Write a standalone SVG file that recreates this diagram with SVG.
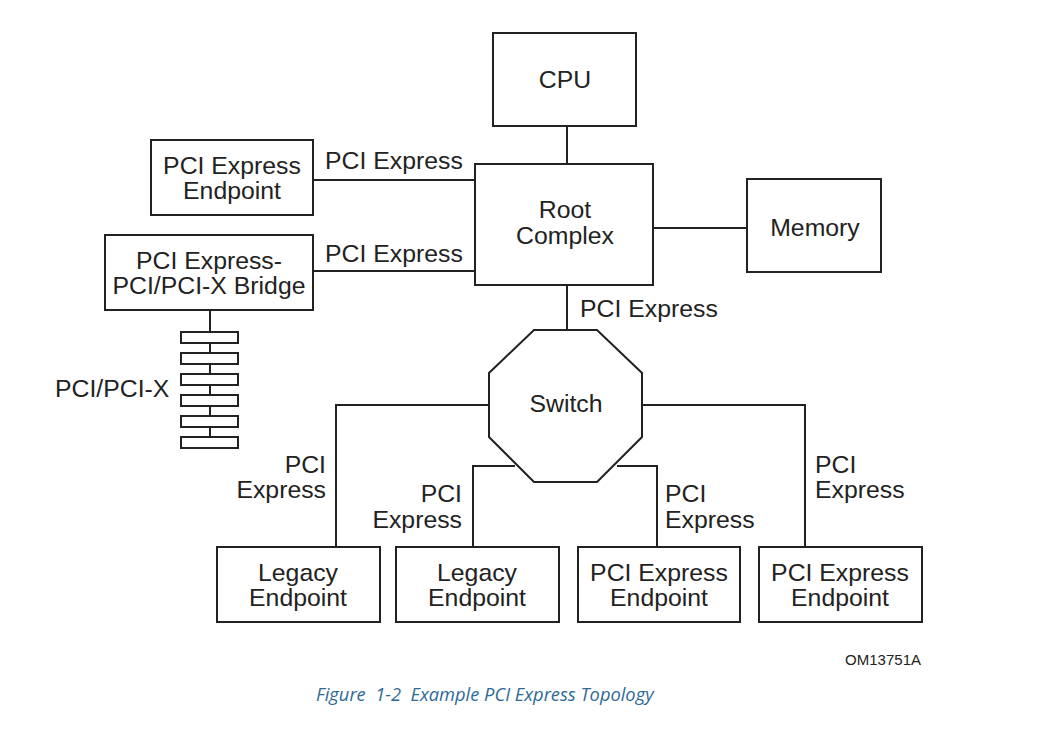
<svg xmlns="http://www.w3.org/2000/svg" width="1042" height="749" viewBox="0 0 1042 749">
<style>
.b{fill:#fff;stroke:#222;stroke-width:2}
.c{fill:none;stroke:#222;stroke-width:2}
.t{font-family:"Liberation Sans",Arial,sans-serif;font-size:24.8px;fill:#222}
.m{text-anchor:middle}
.e{text-anchor:end}
.cap{font-family:"Open Sans","Noto Sans",sans-serif;font-style:italic;font-size:18.3px;fill:#2f6a95;white-space:pre}
</style>
<rect width="1042" height="749" fill="#fff"/>
<g id="connectors">
<path class="c" d="M567 126V164M567 285V330M313 180H475M313 271H475M653 228H747"/>
<path class="c" d="M489 405H336V547M642 405H805V547M515 466H473V547M617 466H657V547"/>
<path class="c" d="M210 310V443"/>
</g>
<g id="cpu"><rect class="b" x="493" y="33" width="143" height="93"/><text class="t m" x="565" y="88">CPU</text></g>
<g id="root"><rect class="b" x="475" y="164" width="178" height="121"/><text class="t m" x="565" y="218">Root</text><text class="t m" x="565" y="244">Complex</text></g>
<g id="memory"><rect class="b" x="747" y="179" width="134" height="93"/><text class="t m" x="815" y="236">Memory</text></g>
<g id="ep-top"><rect class="b" x="151" y="140" width="162" height="75"/><text class="t m" x="232" y="174">PCI Express</text><text class="t m" x="232" y="199">Endpoint</text></g>
<g id="bridge"><rect class="b" x="105" y="235" width="208" height="75"/><text class="t m" x="209" y="269">PCI Express-</text><text class="t m" x="209" y="294">PCI/PCI-X Bridge</text></g>
<g id="bus">
<rect class="b" x="181" y="332" width="57" height="11"/>
<rect class="b" x="181" y="353" width="57" height="11"/>
<rect class="b" x="181" y="374" width="57" height="11"/>
<rect class="b" x="181" y="395" width="57" height="11"/>
<rect class="b" x="181" y="416" width="57" height="11"/>
<rect class="b" x="181" y="437" width="57" height="11"/>
<text class="t" x="55" y="397">PCI/PCI-X</text>
</g>
<g id="switch"><polygon class="b" points="534,330 597,330 642,373 642,437 597,482 534,482 489,437 489,373"/><text class="t m" x="566" y="412">Switch</text></g>
<g id="labels">
<text class="t" x="325" y="169">PCI Express</text>
<text class="t" x="325" y="262">PCI Express</text>
<text class="t" x="580" y="317">PCI Express</text>
<text class="t e" x="326" y="473">PCI</text><text class="t e" x="326" y="498">Express</text>
<text class="t e" x="462" y="502">PCI</text><text class="t e" x="462" y="528">Express</text>
<text class="t" x="665" y="502">PCI</text><text class="t" x="665" y="528">Express</text>
<text class="t" x="815" y="473">PCI</text><text class="t" x="815" y="498">Express</text>
</g>
<g id="legacy1"><rect class="b" x="217" y="547" width="163" height="75"/><text class="t m" x="298" y="581">Legacy</text><text class="t m" x="298" y="606">Endpoint</text></g>
<g id="legacy2"><rect class="b" x="396" y="547" width="163" height="75"/><text class="t m" x="477" y="581">Legacy</text><text class="t m" x="477" y="606">Endpoint</text></g>
<g id="ep3"><rect class="b" x="578" y="547" width="162" height="75"/><text class="t m" x="659" y="581">PCI Express</text><text class="t m" x="659" y="606">Endpoint</text></g>
<g id="ep4"><rect class="b" x="759" y="547" width="163" height="75"/><text class="t m" x="840" y="581">PCI Express</text><text class="t m" x="840" y="606">Endpoint</text></g>
<text x="921" y="665" text-anchor="end" font-family="Liberation Sans,Arial,sans-serif" font-size="15" fill="#222">OM13751A</text>
<text class="cap" x="316" y="701" xml:space="preserve">Figure  1-2  Example PCI Express Topology</text>
</svg>
